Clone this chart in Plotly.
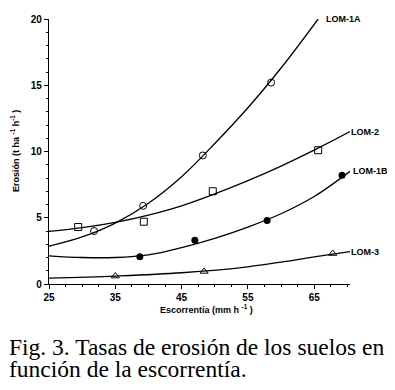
import plotly.graph_objects as go

x_1a = [31.8, 39.2, 48.2, 58.5]
y_1a = [4.0, 5.9, 9.7, 15.2]
x_2 = [29.4, 39.3, 49.7, 65.6]
y_2 = [4.3, 4.7, 7.0, 10.1]
x_1b = [38.7, 47.0, 57.9, 69.2]
y_1b = [2.05, 3.3, 4.8, 8.2]
x_3 = [35.0, 48.4, 67.8]
y_3 = [0.6, 0.95, 2.3]

# Fitted curves
cx_1a = [25, 30, 35, 40, 45, 50, 55, 60, 65.6]
cy_1a = [2.85, 3.55, 4.6, 6.1, 8.1, 10.6, 13.3, 16.3, 20.0]
cx_2 = [25, 30, 35, 40, 45, 50, 55, 60, 65, 70.4]
cy_2 = [3.97, 4.25, 4.65, 5.2, 5.9, 6.8, 7.8, 8.9, 10.1, 11.5]
cx_1b = [25, 30, 35, 40, 45, 50, 55, 60, 65, 70.4]
cy_1b = [2.13, 2.0, 2.0, 2.2, 2.75, 3.45, 4.3, 5.3, 6.6, 8.5]
cx_3 = [25, 35, 45, 55, 60, 65, 70.4]
cy_3 = [0.44, 0.6, 0.85, 1.3, 1.65, 2.05, 2.45]

labels = ["LOM-1A", "LOM-2", "LOM-1B", "LOM-3"]
x_ticks = [25, 35, 45, 55, 65]
y_ticks = [0, 5, 10, 15, 20]

fig = go.Figure()
line = dict(color="black", width=1.3)
for cx, cy in [(cx_1a, cy_1a), (cx_2, cy_2), (cx_1b, cy_1b), (cx_3, cy_3)]:
    fig.add_trace(go.Scatter(x=cx, y=cy, mode="lines", line=dict(**line, shape="spline", smoothing=1.0),
                             hoverinfo="skip", showlegend=False))

mk = dict(color="black", width=1)
fig.add_trace(go.Scatter(x=x_1a, y=y_1a, mode="markers",
                         marker=dict(symbol="circle-open", size=7, color="black", line=mk), showlegend=False))
fig.add_trace(go.Scatter(x=x_2, y=y_2, mode="markers",
                         marker=dict(symbol="square-open", size=7, color="black", line=mk), showlegend=False))
fig.add_trace(go.Scatter(x=x_1b, y=y_1b, mode="markers",
                         marker=dict(symbol="circle", size=7, color="black"), showlegend=False))
fig.add_trace(go.Scatter(x=x_3, y=y_3, mode="markers",
                         marker=dict(symbol="triangle-up-open", size=7, color="black", line=mk), showlegend=False))

lab_font = dict(family="Liberation Sans, Arial", size=9, color="black")
ends = [(cx_1a[-1], cy_1a[-1]), (cx_2[-1], cy_2[-1]), (cx_1b[-1], cy_1b[-1]), (cx_3[-1], cy_3[-1])]
shifts = [7, 0, 2, 0]
for name, (ex, ey), sh in zip(labels, ends, shifts):
    fig.add_annotation(x=ex, y=ey, text="<b>%s</b>" % name, showarrow=False, xanchor="left",
                       xshift=sh, borderpad=0, font=lab_font)

fig.add_annotation(xref="paper", yref="paper", x=0.522, y=-0.093, xanchor="center", yanchor="middle",
                   text="<b>Escorrentía (mm h <sup>-1</sup> )</b>", showarrow=False, borderpad=0,
                   font=dict(family="Liberation Sans, Arial", size=9, color="black"))
fig.add_annotation(xref="paper", yref="paper", x=-0.113, y=0.502, xanchor="center", yanchor="middle",
                   text="<b>Erosión (t ha <sup>-1</sup> h<sup>-1</sup> )</b>", showarrow=False, textangle=-90,
                   borderpad=0, font=dict(family="Liberation Sans, Arial", size=9, color="black"))

cap_font = dict(family="Liberation Serif, Times New Roman", size=23.5, color="black")
fig.add_annotation(xref="paper", yref="paper", x=-0.136, y=-0.237, xanchor="left", yanchor="middle",
                   text="Fig. 3. Tasas de erosión de los suelos en", showarrow=False, borderpad=0,
                   font=cap_font)
fig.add_annotation(xref="paper", yref="paper", x=-0.136, y=-0.322, xanchor="left", yanchor="middle",
                   text="función de la escorrentía.", showarrow=False, borderpad=0, font=cap_font)

axis_common = dict(showgrid=False, zeroline=False, showline=True, linecolor="black", linewidth=1.3,
                   ticks="outside", ticklen=4, tickwidth=1.2, tickcolor="black",
                   ticklabeloverflow="allow",
                   tickfont=dict(family="Liberation Sans, Arial", size=10, color="black"))
fig.update_xaxes(range=[25, 70.4], tickvals=x_ticks, ticktext=["<b>%d</b>" % v for v in x_ticks],
                 minor=dict(ticks="outside", ticklen=2, dtick=2.5, tickcolor="black", tick0=25),
                 **axis_common)
fig.update_yaxes(range=[0, 20], tickvals=y_ticks, ticktext=["<b>%d</b>" % v for v in y_ticks],
                 minor=dict(ticks="outside", ticklen=2, dtick=1, tickcolor="black"),
                 **axis_common)

fig.update_layout(width=387, height=382, margin=dict(l=41, r=45, t=5, b=106),
                  paper_bgcolor="white", plot_bgcolor="white", showlegend=False)

fig.write_html("out.html")
